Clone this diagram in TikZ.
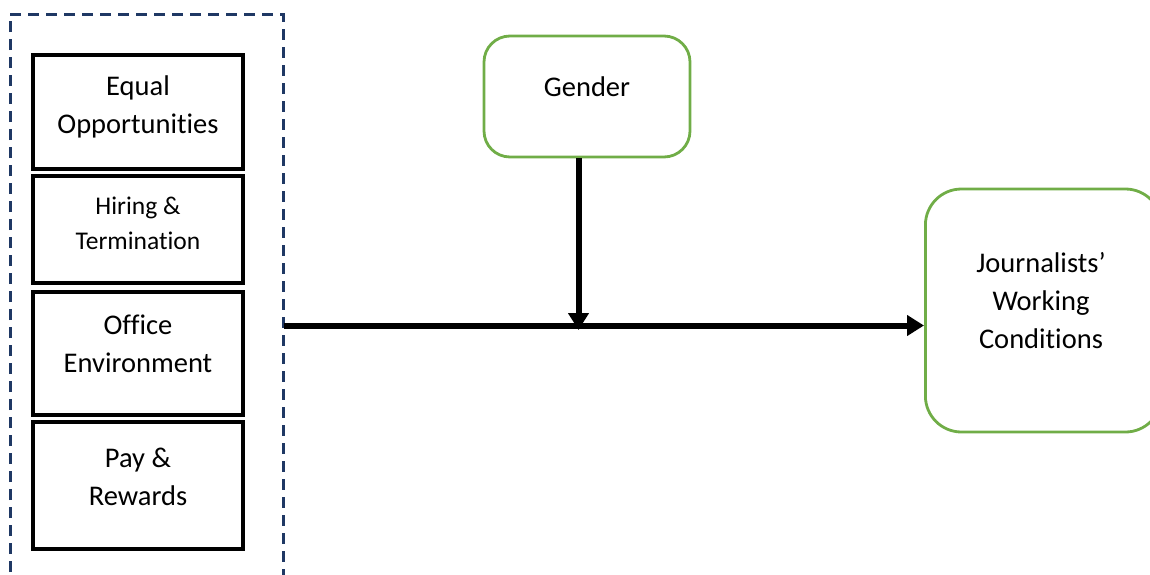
\documentclass[tikz,border=0pt]{standalone}
\usepackage{fontspec}
\setmainfont[Ligatures=NoCommon]{Carlito}
\usetikzlibrary{arrows.meta}
\definecolor{navy}{HTML}{1F3864}
\definecolor{grn}{HTML}{70AD47}
\begin{document}
\begin{tikzpicture}[x=1pt,y=-1pt,
  fbox/.style={draw=black,line width=3.2pt,minimum width=210pt,inner sep=0pt},
  gbox/.style={draw=grn,line width=2.8pt,inner sep=0pt},
  txt/.style={align=center,inner sep=0pt,font=\fontsize{28.5}{38}\selectfont},
  arr/.style={line width=6pt,-{Triangle[length=17pt,width=20pt]}}]
\useasboundingbox (0,0) rectangle (1150,574);
\draw[navy,line width=3pt,dash pattern=on 11pt off 7pt] (10,590) -- (10,14) -- (283,14) -- (283,590);
\node[fbox,minimum height=114pt] (eo) at (138,112) {};
\node[txt] (eot) at (138,107) {Equal\\Opportunities};
\node[fbox,minimum height=107pt] (ht) at (138,229.5) {};
\node[txt,font=\fontsize{25.5}{35}\selectfont] (htt) at (138,223) {Hiring \&\\Termination};
\node[fbox,minimum height=123pt] (oe) at (138,353.5) {};
\node[txt] (oet) at (138,344) {Office\\Environment};
\node[fbox,minimum height=127pt] (pr) at (138,485.5) {};
\node[txt] (prt) at (138,477) {Pay \&\\Rewards};
\node[gbox,minimum width=206pt,minimum height=121pt,rounded corners=26pt] (g) at (587,96.5) {};
\node[txt] (gt) at (587,87) {Gender};
\node[gbox,minimum width=236pt,minimum height=243pt,rounded corners=36pt,anchor=west] (j) at (924,310.5) {};
\node[txt] (jt) at (1041,301) {Journalists’\\Working\\Conditions};
\coordinate (src) at (284,325.5);
\coordinate (mid) at (578.5,330);
\draw[arr] (src) -- (j.west |- src);
\draw[arr] (g.south -| mid) -- (mid);
\end{tikzpicture}
\end{document}
